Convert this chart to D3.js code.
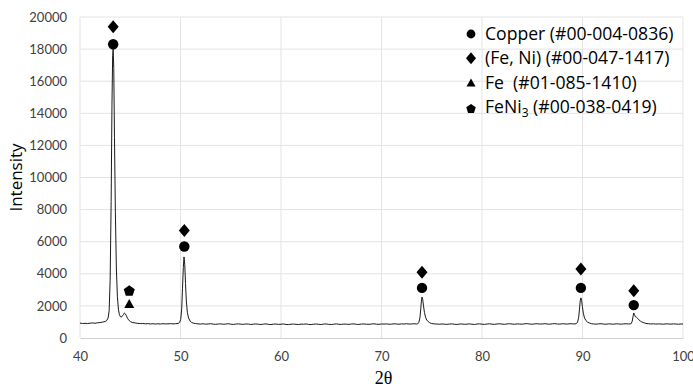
<!DOCTYPE html>
<html>
<head>
<meta charset="utf-8">
<script src="https://cdn.jsdelivr.net/npm/d3@7"></script>
<style>
  html, body { margin: 0; padding: 0; background: #fff; }
  svg { display: block; }
</style>
</head>
<body>
<div id="chart"></div>
<script>
// XRD pattern: [2theta, intensity]
const pattern = [
  [40, 930], [40.25, 905], [40.5, 915], [40.75, 898], [41, 925], [41.25, 940], [41.5, 918], [41.75, 948],
  [42, 962], [42.25, 990], [42.5, 1030], [42.65, 1080], [42.8, 1250], [42.9, 1700], [43, 3600], [43.1, 8500],
  [43.18, 14500], [43.25, 17600], [43.3, 18000], [43.36, 16800], [43.43, 12500], [43.52, 7800], [43.62, 4300],
  [43.72, 2600], [43.82, 1800], [43.92, 1450], [44.02, 1330], [44.12, 1300], [44.22, 1380], [44.32, 1450],
  [44.42, 1560], [44.52, 1500], [44.62, 1380], [44.75, 1200], [44.9, 1080], [45.05, 1010], [45.25, 960], [45.5, 935],
  [45.75, 912], [46, 895], [46.25, 905], [46.5, 884], [46.75, 898], [47, 875], [47.25, 890], [47.5, 868],
  [47.75, 886], [48, 872], [48.25, 893], [48.5, 876], [48.75, 882], [49, 895], [49.25, 878], [49.5, 890], [49.75, 905],
  [49.9, 960], [50.02, 1150], [50.12, 1800], [50.2, 3100], [50.28, 4400], [50.35, 5050], [50.42, 4600],
  [50.5, 3400], [50.58, 2300], [50.68, 1600], [50.8, 1250], [50.95, 1060], [51.1, 970], [51.3, 920],
  [51.5, 900], [51.75, 880], [52, 870], [52.25, 885], [52.5, 860], [52.75, 875], [53, 890], [53.25, 865],
  [53.5, 850], [53.75, 872], [54, 880], [54.25, 858], [54.5, 868], [54.75, 890], [55, 860], [55.25, 845],
  [55.5, 870], [55.75, 880], [56, 862], [56.25, 850], [56.5, 875], [56.75, 868], [57, 845], [57.25, 860],
  [57.5, 878], [57.75, 855], [58, 842], [58.25, 865], [58.5, 880], [58.75, 850], [59, 838], [59.25, 862],
  [59.5, 870], [59.75, 848], [60, 858], [60.25, 875], [60.5, 845], [60.75, 835], [61, 860], [61.25, 872],
  [61.5, 850], [61.75, 840], [62, 865], [62.25, 855], [62.5, 878], [62.75, 846], [63, 838], [63.25, 862],
  [63.5, 870], [63.75, 852], [64, 840], [64.25, 868], [64.5, 875], [64.75, 850], [65, 842], [65.25, 860],
  [65.5, 880], [65.75, 855], [66, 845], [66.25, 870], [66.5, 862], [66.75, 848], [67, 872], [67.25, 880],
  [67.5, 852], [67.75, 845], [68, 868], [68.25, 875], [68.5, 858], [68.75, 850], [69, 872], [69.25, 885],
  [69.5, 860], [69.75, 852], [70, 875], [70.25, 868], [70.5, 880], [70.75, 858], [71, 862], [71.25, 885],
  [71.5, 870], [71.75, 860], [72, 880], [72.25, 872], [72.5, 888], [72.75, 868], [73, 875], [73.25, 890],
  [73.5, 870], [73.6, 880], [73.72, 980], [73.82, 1250], [73.9, 1750], [73.97, 2300], [74.03, 2550],
  [74.1, 2400], [74.18, 2000], [74.27, 1600], [74.38, 1300], [74.5, 1120], [74.65, 1020], [74.8, 950], [75, 900],
  [75.25, 880], [75.5, 870], [75.75, 858], [76, 875], [76.25, 862], [76.5, 848], [76.75, 870], [77, 880],
  [77.25, 855], [77.5, 845], [77.75, 868], [78, 875], [78.25, 852], [78.5, 862], [78.75, 880], [79, 858],
  [79.25, 845], [79.5, 870], [79.75, 882], [80, 860], [80.25, 848], [80.5, 872], [80.75, 885], [81, 862],
  [81.25, 850], [81.5, 875], [81.75, 888], [82, 865], [82.25, 852], [82.5, 878], [82.75, 890], [83, 868],
  [83.25, 855], [83.5, 880], [83.75, 872], [84, 860], [84.25, 885], [84.5, 895], [84.75, 870], [85, 858],
  [85.25, 880], [85.5, 890], [85.75, 868], [86, 875], [86.25, 892], [86.5, 870], [86.75, 862], [87, 885],
  [87.25, 895], [87.5, 872], [87.75, 865], [88, 888], [88.25, 878], [88.5, 868], [88.75, 890], [89, 882],
  [89.25, 875], [89.4, 900], [89.52, 1000], [89.62, 1300], [89.7, 1800], [89.77, 2300], [89.84, 2500],
  [89.91, 2350], [89.99, 1950], [90.08, 1550], [90.2, 1250], [90.35, 1080], [90.5, 990], [90.7, 930], [90.9, 890],
  [91.1, 875], [91.35, 862], [91.6, 880], [91.85, 890], [92.1, 868], [92.35, 858], [92.6, 882], [92.85, 872],
  [93.1, 860], [93.35, 885], [93.6, 875], [93.85, 862], [94.1, 880], [94.35, 890], [94.6, 870], [94.75, 880],
  [94.85, 900], [94.95, 1050], [95.03, 1350], [95.1, 1560], [95.18, 1450], [95.27, 1320], [95.37, 1290],
  [95.48, 1230], [95.6, 1140], [95.75, 1060], [95.9, 1000], [96.1, 950], [96.3, 910],
  [96.55, 890], [96.8, 875], [97.05, 885], [97.3, 868], [97.55, 880], [97.8, 872], [98.05, 860], [98.3, 882],
  [98.55, 875], [98.8, 865], [99.05, 880], [99.3, 870], [99.55, 858], [99.8, 875], [100, 868]
];

// phase markers [2theta, intensity]
const copperPeaks = [[43.3, 18300], [50.38, 5700], [74.03, 3120], [89.84, 3120], [95.1, 2050]];
const feNiPeaks = [[43.3, 19400], [50.38, 6700], [74.03, 4100], [89.84, 4300], [95.1, 2950]];
const fePeaks = [[44.9, 2150]];
const feNi3Peaks = [[44.9, 2930]];

const xTicks = [40, 50, 60, 70, 80, 90, 100];
const yTicks = [0, 2000, 4000, 6000, 8000, 10000, 12000, 14000, 16000, 18000, 20000];

const W = 693, H = 388;
const margin = { top: 17, right: 10, bottom: 50, left: 80 };
const tickFont = 'Lato, "Liberation Sans", sans-serif';
const labelFont = '"Open Sans", "Liberation Sans", sans-serif';

const svg = d3.select('#chart').append('svg')
  .attr('width', W)
  .attr('height', H);

const x = d3.scaleLinear().domain([40, 100]).range([margin.left, W - margin.right]);
const y = d3.scaleLinear().domain([0, 20000]).range([H - margin.bottom, margin.top]);

// gridlines
svg.append('g')
  .selectAll('line')
  .data(yTicks.slice(1))
  .join('line')
  .attr('x1', x(40)).attr('x2', x(100))
  .attr('y1', d => y(d)).attr('y2', d => y(d))
  .attr('stroke', '#e3e3e3');

svg.append('g')
  .selectAll('line')
  .data(xTicks)
  .join('line')
  .attr('x1', d => x(d)).attr('x2', d => x(d))
  .attr('y1', y(0)).attr('y2', y(20000))
  .attr('stroke', '#e3e3e3');

// axes
const xAxis = svg.append('g')
  .attr('transform', `translate(0,${y(0)})`)
  .call(d3.axisBottom(x).tickValues(xTicks).tickSize(0).tickPadding(14));
xAxis.select('.domain').attr('stroke', '#d0d0d0');
xAxis.selectAll('text').attr('font-size', 13).attr('fill', '#404040')
  .style('font-family', tickFont);

const yAxis = svg.append('g')
  .attr('transform', `translate(${margin.left},0)`)
  .call(d3.axisLeft(y).tickValues(yTicks).tickSize(0).tickPadding(13).tickFormat(d3.format('d')));
yAxis.select('.domain').remove();
yAxis.selectAll('text').attr('font-size', 13).attr('fill', '#404040')
  .style('font-family', tickFont);

// axis titles
svg.append('text')
  .attr('transform', `translate(22,${(y(0) + y(20000)) / 2}) rotate(-90)`)
  .attr('text-anchor', 'middle')
  .attr('font-size', 17)
  .style('font-family', labelFont)
  .attr('fill', '#000')
  .text('Intensity');

svg.append('text')
  .attr('x', (x(40) + x(100)) / 2 + 2)
  .attr('y', 384)
  .attr('text-anchor', 'middle')
  .attr('font-size', 18)
  .style('font-family', '"Liberation Serif", "DejaVu Serif", serif')
  .attr('fill', '#000')
  .text('2θ');

// pattern line
const line = d3.line()
  .x(d => x(d[0]))
  .y(d => y(d[1]));

svg.append('path')
  .datum(pattern)
  .attr('d', line)
  .attr('fill', 'none')
  .attr('stroke', '#1a1a1a')
  .attr('stroke-width', 1)
  .attr('stroke-linejoin', 'round');

// marker shapes
function diamondPath(w, h) {
  return `M0,${-h / 2}L${w / 2},0L0,${h / 2}L${-w / 2},0Z`;
}
function trianglePath(w, h) {
  return `M0,${-h / 2}L${w / 2},${h / 2}L${-w / 2},${h / 2}Z`;
}
function pentagonPath(r) {
  const pts = d3.range(5).map(i => {
    const a = -Math.PI / 2 + i * 2 * Math.PI / 5;
    return [r * Math.cos(a), r * Math.sin(a)];
  });
  return 'M' + pts.map(p => p.join(',')).join('L') + 'Z';
}

const markerDefs = [
  { data: copperPeaks, path: null },
  { data: feNiPeaks, path: diamondPath(11, 13) },
  { data: fePeaks, path: trianglePath(10, 9) },
  { data: feNi3Peaks, path: pentagonPath(5.8) }
];

const marks = svg.append('g');
markerDefs.forEach(m => {
  if (m.path === null) {
    marks.selectAll(null)
      .data(m.data)
      .join('circle')
      .attr('cx', d => x(d[0]))
      .attr('cy', d => y(d[1]))
      .attr('r', 5.2)
      .attr('fill', '#000');
  } else {
    marks.selectAll(null)
      .data(m.data)
      .join('path')
      .attr('transform', d => `translate(${x(d[0])},${y(d[1])})`)
      .attr('d', m.path)
      .attr('fill', '#000');
  }
});

// legend
const legendItems = [
  { label: 'Copper (#00-004-0836)', path: null },
  { label: '(Fe, Ni) (#00-047-1417)', path: diamondPath(10, 12) },
  { label: 'Fe  (#01-085-1410)', path: trianglePath(9, 8) },
  { label: 'FeNi', sub: '3', rest: ' (#00-038-0419)', path: pentagonPath(5) }
];

const legend = svg.append('g').attr('transform', 'translate(471,34)');
legendItems.forEach((d, i) => {
  const row = legend.append('g').attr('transform', `translate(0,${i * 24.3})`);
  if (d.path === null) {
    row.append('circle').attr('r', 4.4).attr('fill', '#000');
  } else {
    row.append('path').attr('d', d.path).attr('fill', '#000')
      .attr('transform', i === 3 ? 'translate(0,2)' : null);
  }
  const t = row.append('text')
    .attr('x', 14)
    .attr('y', 6)
    .attr('font-size', 17.6)
    .style('font-family', labelFont)
    .style('white-space', 'pre')
    .attr('fill', '#000');
  if (d.sub) {
    t.append('tspan').text(d.label);
    t.append('tspan').attr('dy', 4).attr('font-size', 12).text(d.sub);
    t.append('tspan').attr('dy', -4).text(d.rest);
  } else {
    t.text(d.label);
  }
});
</script>
</body>
</html>
